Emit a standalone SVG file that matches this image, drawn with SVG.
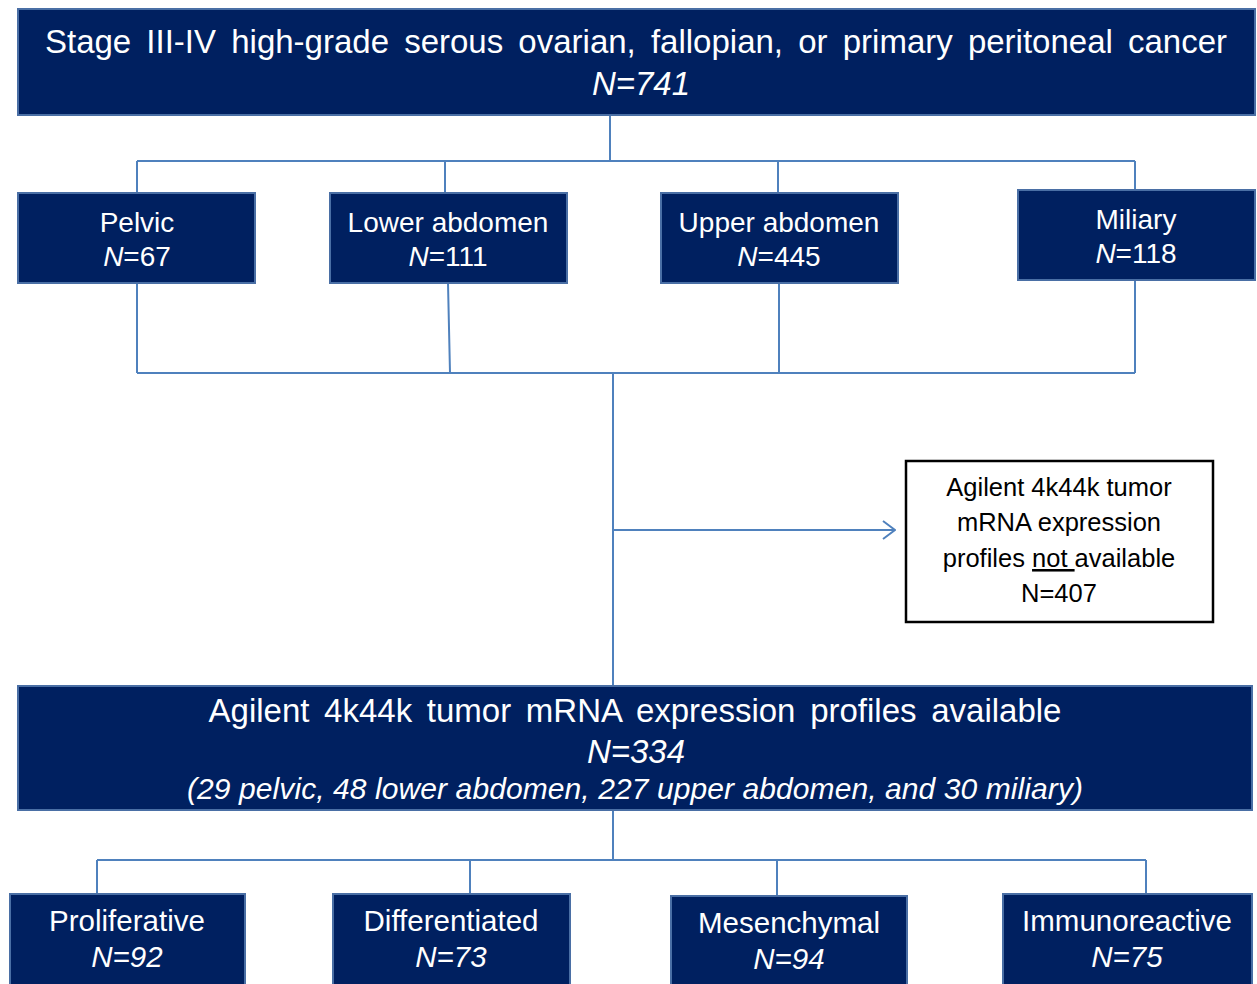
<svg xmlns="http://www.w3.org/2000/svg" width="1257" height="984" viewBox="0 0 1257 984">
<style>
.nb{fill:#002060;stroke:#4A6FA5;stroke-width:2}
.t{font-family:"Liberation Sans",Arial,sans-serif;fill:#ffffff;text-anchor:middle}
.k{font-family:"Liberation Sans",Arial,sans-serif;fill:#000000;text-anchor:middle;font-size:25.5px}
.c{fill:none;stroke:#4F81BD;stroke-width:2}
.i{font-style:italic}
</style>
<defs>
<marker id="arr" viewBox="0 0 14 20" refX="13" refY="10" markerWidth="14" markerHeight="20" markerUnits="userSpaceOnUse" orient="auto">
<path d="M1,1 L13,10 L1,19" fill="none" stroke="#4F81BD" stroke-width="2"/>
</marker>
</defs>
<g id="connectors">
<path class="c" d="M610,115 V161 M137,161 H1135 M137,161 V193 M445,161 V193 M778,161 V193 M1135,161 V190"/>
<path class="c" d="M137,283 V373 M448,283 L450,373 M779,283 V373 M1135,280 V373 M137,373 H1135 M613,373 V686"/>
<path class="c" d="M613,530 H895" marker-end="url(#arr)"/>
<path class="c" d="M613,810 V860 M97,860 H1146 M97,860 V894 M470,860 V894 M777,860 V896 M1146,860 V894"/>
</g>
<g id="top">
<rect class="nb" x="18" y="9" width="1237" height="106"/>
<text class="t" x="636" y="53" font-size="33" word-spacing="6">Stage III-IV high-grade serous ovarian, fallopian, or primary peritoneal cancer</text>
<text class="t i" x="641" y="95" font-size="33">N=741</text>
</g>
<g id="pelvic">
<rect class="nb" x="18" y="193" width="237" height="90"/>
<text class="t" x="137" y="232" font-size="28">Pelvic</text>
<text class="t" x="137" y="266" font-size="28"><tspan class="i">N</tspan>=67</text>
</g>
<g id="lower">
<rect class="nb" x="330" y="193" width="237" height="90"/>
<text class="t" x="448" y="232" font-size="28">Lower abdomen</text>
<text class="t" x="448" y="266" font-size="28"><tspan class="i">N</tspan>=111</text>
</g>
<g id="upper">
<rect class="nb" x="661" y="193" width="237" height="90"/>
<text class="t" x="779" y="232" font-size="28">Upper abdomen</text>
<text class="t" x="779" y="266" font-size="28"><tspan class="i">N</tspan>=445</text>
</g>
<g id="miliary">
<rect class="nb" x="1018" y="190" width="237" height="90"/>
<text class="t" x="1136" y="229" font-size="28">Miliary</text>
<text class="t" x="1136" y="263" font-size="28"><tspan class="i">N</tspan>=118</text>
</g>
<g id="notavail">
<rect x="906" y="461" width="307" height="161" fill="#ffffff" stroke="#000000" stroke-width="2.5"/>
<text class="k" x="1059" y="496">Agilent 4k44k tumor</text>
<text class="k" x="1059" y="531">mRNA expression</text>
<text class="k" x="1059" y="567">profiles <tspan text-decoration="underline">not </tspan>available</text>
<text class="k" x="1059" y="602">N=407</text>
</g>
<g id="available">
<rect class="nb" x="18" y="686" width="1234" height="124"/>
<text class="t" x="635" y="722" font-size="33" word-spacing="5.5">Agilent 4k44k tumor mRNA expression profiles available</text>
<text class="t i" x="636" y="763" font-size="33">N=334</text>
<text class="t i" x="635" y="799" font-size="30" textLength="896" lengthAdjust="spacing">(29 pelvic, 48 lower abdomen, 227 upper abdomen, and 30 miliary)</text>
</g>
<g id="proliferative">
<rect class="nb" x="10" y="894" width="235" height="92"/>
<text class="t" x="127" y="931" font-size="29.5">Proliferative</text>
<text class="t i" x="127" y="967" font-size="29.5">N=92</text>
</g>
<g id="differentiated">
<rect class="nb" x="333" y="894" width="237" height="92"/>
<text class="t" x="451" y="931" font-size="29.5">Differentiated</text>
<text class="t i" x="451" y="967" font-size="29.5">N=73</text>
</g>
<g id="mesenchymal">
<rect class="nb" x="671" y="896" width="236" height="90"/>
<text class="t" x="789" y="933" font-size="29.5">Mesenchymal</text>
<text class="t i" x="789" y="969" font-size="29.5">N=94</text>
</g>
<g id="immunoreactive">
<rect class="nb" x="1003" y="894" width="249" height="92"/>
<text class="t" x="1127" y="931" font-size="29.5">Immunoreactive</text>
<text class="t i" x="1127" y="967" font-size="29.5">N=75</text>
</g>
</svg>
